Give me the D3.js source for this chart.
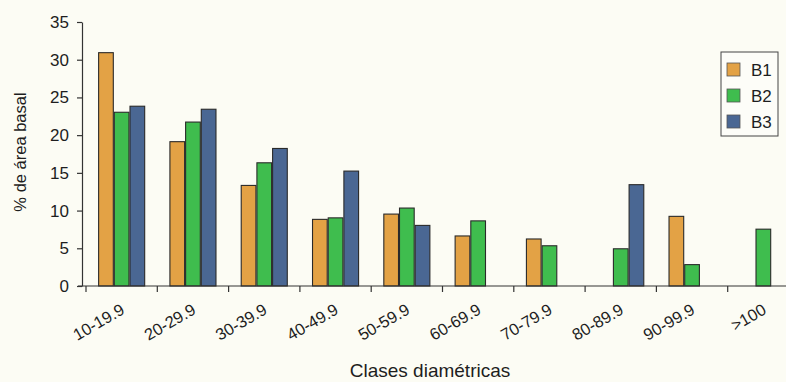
<!DOCTYPE html>
<html>
<head>
<meta charset="utf-8">
<script src="https://cdn.jsdelivr.net/npm/d3@7/dist/d3.min.js"></script>
<style>
  html, body { margin: 0; padding: 0; background: #fcfcf4; }
  svg { display: block; }
  text { font-family: "Liberation Sans", Arial, sans-serif; fill: #1e1e1e; }
</style>
</head>
<body>
<svg id="chart" width="786" height="382"></svg>
<script>
// Basal area share (%) per diameter class, for three plots
const classes = ["10-19.9", "20-29.9", "30-39.9", "40-49.9", "50-59.9",
                 "60-69.9", "70-79.9", "80-89.9", "90-99.9", ">100"];
const seriesNames = ["B1", "B2", "B3"];
const b1 = [31.0, 19.2, 13.4, 8.9, 9.6, 6.7, 6.3, 0, 9.3, 0];
const b2 = [23.1, 21.8, 16.4, 9.1, 10.4, 8.7, 5.4, 5.0, 2.9, 7.6];
const b3 = [23.9, 23.5, 18.3, 15.3, 8.1, 0, 0, 13.5, 0, 0];
const yTicks = [0, 5, 10, 15, 20, 25, 30, 35];

const colors = { B1: "#e3a245", B2: "#3fbd4e", B3: "#4a6793" };
const seriesValues = { B1: b1, B2: b2, B3: b3 };

const rows = classes.map((c, i) => ({
  cls: c,
  values: seriesNames.map(s => ({ key: s, value: seriesValues[s][i] }))
}));

const svg = d3.select("#chart");

const plot = { left: 82, right: 799, top: 22, bottom: 286, bandStart: 86 };

const x0 = d3.scaleBand()
  .domain(classes)
  .range([plot.bandStart, plot.right])
  .paddingInner(0.34)
  .paddingOuter(0.17);

const x1 = d3.scaleBand()
  .domain(seriesNames)
  .range([0, x0.bandwidth()]);

const y = d3.scaleLinear()
  .domain([0, 35])
  .range([plot.bottom, plot.top]);

// Bars (zero values are not drawn)
const groups = svg.append("g")
  .selectAll("g")
  .data(rows)
  .join("g")
  .attr("transform", d => `translate(${x0(d.cls)},0)`);

groups.selectAll("rect")
  .data(d => d.values.filter(v => v.value > 0))
  .join("rect")
  .attr("x", d => x1(d.key) + 0.5)
  .attr("y", d => y(d.value) + 0.5)
  .attr("width", x1.bandwidth() - 1)
  .attr("height", d => y(0) - y(d.value) - 0.5)
  .attr("fill", d => colors[d.key])
  .attr("stroke", "#2a2a2a")
  .attr("stroke-width", 1.1);

// Y axis
const yAxis = svg.append("g")
  .attr("transform", `translate(${plot.left},0)`)
  .call(d3.axisLeft(y).tickValues(yTicks).tickSize(5).tickSizeOuter(0).tickPadding(8));
yAxis.select(".domain").attr("stroke", "#333").attr("stroke-width", 1.2);
yAxis.selectAll(".tick line").attr("stroke", "#333").attr("stroke-width", 1.2);
yAxis.selectAll(".tick text")
  .style("font-family", "'Liberation Sans', Arial, sans-serif")
  .style("font-size", "17px")
  .attr("fill", "#1e1e1e");

// X axis: ticks sit on the boundaries between diameter classes
const step = x0.step();
const xAxis = svg.append("g")
  .attr("transform", `translate(0,${plot.bottom})`)
  .call(d3.axisBottom(x0).tickSize(0).tickSizeOuter(0).tickPadding(0));
xAxis.select(".domain").remove();
xAxis.append("line")
  .attr("x1", plot.left - 4).attr("x2", 786)
  .attr("y1", 0).attr("y2", 0)
  .attr("stroke", "#333").attr("stroke-width", 1.2);
xAxis.selectAll(".tick line")
  .attr("x1", -step / 2).attr("x2", -step / 2)
  .attr("y1", 0).attr("y2", 6)
  .attr("stroke", "#333").attr("stroke-width", 1.2);
xAxis.selectAll(".tick text")
  .style("font-family", "'Liberation Sans', Arial, sans-serif")
  .style("font-size", "16.5px")
  .attr("fill", "#1e1e1e")
  .attr("text-anchor", "end")
  .attr("dy", 0)
  .attr("y", 0)
  .attr("transform", "translate(4,27) rotate(-30)");

// Axis titles
svg.append("text")
  .attr("transform", "translate(26,152) rotate(-90)")
  .attr("text-anchor", "middle")
  .style("font-size", "16.5px")
  .text("% de área basal");

svg.append("text")
  .attr("x", 430)
  .attr("y", 377)
  .attr("text-anchor", "middle")
  .style("font-size", "19px")
  .text("Clases diamétricas");

// Legend
const legend = svg.append("g").attr("transform", "translate(721,52)");
legend.append("rect")
  .attr("width", 57).attr("height", 84)
  .attr("fill", "#fdfdf8")
  .attr("stroke", "#444").attr("stroke-width", 1);
const items = legend.selectAll("g.item")
  .data(seriesNames)
  .join("g")
  .attr("class", "item")
  .attr("transform", (d, i) => `translate(6,${11 + i * 26})`);
items.append("rect")
  .attr("width", 13).attr("height", 13)
  .attr("fill", d => colors[d])
  .attr("stroke", "#555").attr("stroke-width", 0.8);
items.append("text")
  .attr("x", 24).attr("y", 12.5)
  .style("font-size", "17px")
  .text(d => d);
</script>
</body>
</html>
